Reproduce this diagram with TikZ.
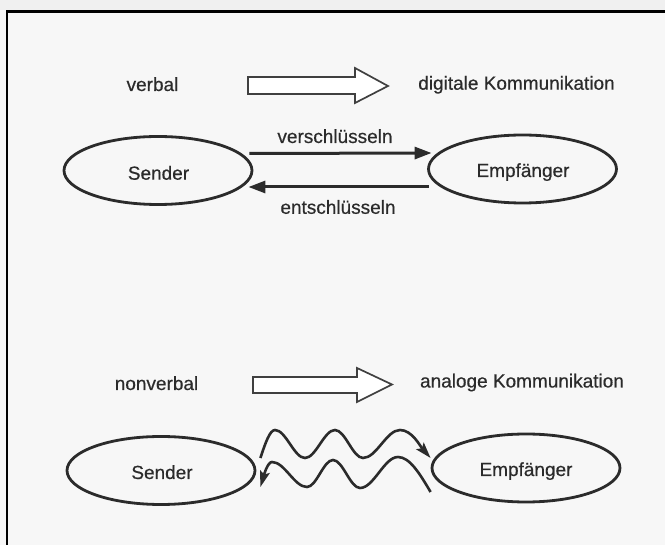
\documentclass[tikz,border=0pt]{standalone}
\usepackage{fontspec}
\setmainfont{Liberation Sans}
\newfontfamily\scanfont[FakeBold=0.5]{Liberation Sans}
\usetikzlibrary{shapes.geometric,arrows.meta}
\definecolor{ink}{HTML}{2B2B2B}
\definecolor{paper}{HTML}{F7F7F7}
\begin{document}
\begin{tikzpicture}[x=1pt,y=-1pt,
  lbl/.style={font=\scanfont\fontsize{19}{22}\selectfont, text=ink, inner sep=0pt, anchor=base},
  party/.style={draw=ink, line width=2.8pt, ellipse, minimum width=188pt, minimum height=68pt, inner sep=0pt},
  flow/.style={draw=ink, line width=3pt, -{Triangle[length=17pt,width=12pt]}},
  wave/.style={draw=ink, line width=2.6pt, -{Stealth[length=16pt,width=10pt,inset=3pt]}},
  bigarrow/.style={draw=ink!90, line width=1.7pt, fill=white}]
\useasboundingbox (0,0) rectangle (665,545);
\fill[paper] (0,0) rectangle (665,545);
\fill[gray!12] (0,0) rectangle (665,10);
\draw[black, line width=2.8pt] (7,545) -- (7,11.2) -- (665,11.2);

% ---- top: verbal ----
\node[lbl] (verbal) at (152.5,91) {verbal};
\node[lbl] (digital) at (516.5,89.7) {digitale Kommunikation};
\draw[bigarrow] (248,77) -- (355,77) -- (355,68) -- (388,86) -- (355,103) -- (355,94) -- (248,94) -- cycle;

\node[party] (S1) at (158,170.5) {};
\node[party] (E1) at (522.5,169) {};
\node[lbl] (tS1) at (158.5,179.7) {Sender};
\node[lbl] (tE1) at (523,177) {Empfänger};

\node[lbl] (encode) at (335,143) {verschlüsseln};
\node[lbl] (decode) at (338,213.8) {entschlüsseln};
\draw[flow] ([xshift=-4pt,yshift=17pt]S1.east) -- ([xshift=4.5pt,yshift=16pt]E1.west);
\draw[flow] ([xshift=1.5pt,yshift=-18pt]E1.west) -- ([xshift=-5pt,yshift=-16.5pt]S1.east);

% ---- bottom: nonverbal ----
\node[lbl] (nonverbal) at (156.5,390) {nonverbal};
\node[lbl] (analog) at (522,387.5) {analoge Kommunikation};
\draw[bigarrow] (253,377) -- (357,377) -- (357,368) -- (392,384.5) -- (357,402) -- (357,393) -- (253,393) -- cycle;

\node[party] (S2) at (161,470.5) {};
\node[party] (E2) at (526,468) {};
\node[lbl] (tS2) at (162,479) {Sender};
\node[lbl] (tE2) at (526,476) {Empfänger};

\coordinate (w1s) at ([xshift=4pt,yshift=12.5pt]S2.east);
\coordinate (w1e) at ([yshift=10pt]E2.west);
\coordinate (w2s) at ([yshift=-24pt]E2.west);
\coordinate (w2e) at ([xshift=4pt,yshift=-16.5pt]S2.east);
\draw[wave] (w1s) sin (275,430) cos (290,444) sin (305,458) cos (320,444) sin (335,430)
  cos (349,444) sin (363,458) cos (381.5,444) sin (400,430)
  .. controls (412,430) and (420,446) .. (w1e);
\draw[wave] (w2s) sin (398,457) cos (379,472.5) sin (360,488) cos (346.5,474) sin (333,460)
  cos (320,473.5) sin (307,487) cos (289.5,474.5) sin (272,462) cos (w2e);
\end{tikzpicture}
\end{document}
